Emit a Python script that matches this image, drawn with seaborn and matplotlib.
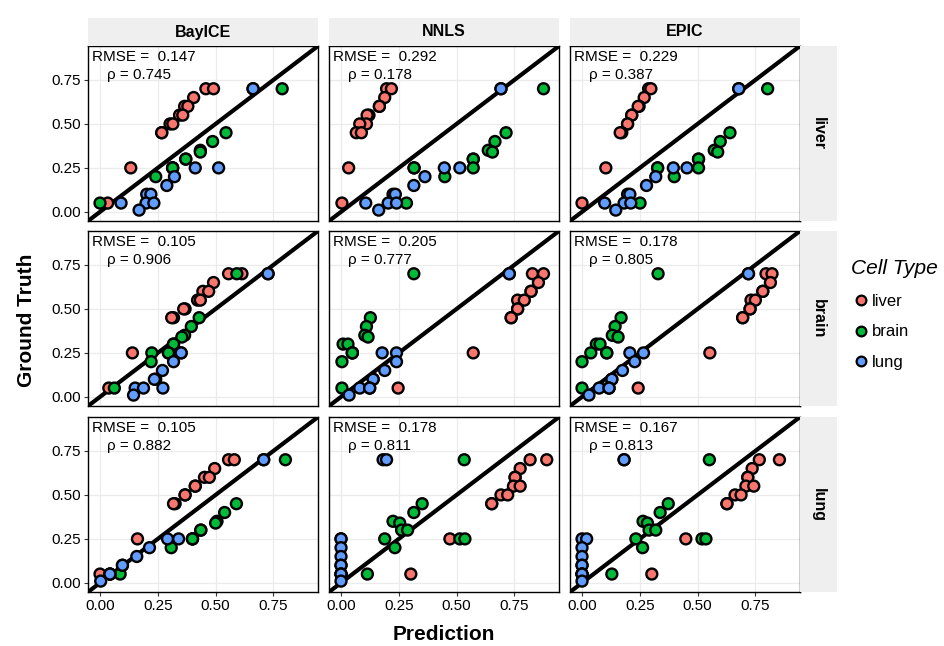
import numpy as np
import pandas as pd
import matplotlib
matplotlib.use("Agg")
import matplotlib.pyplot as plt
import seaborn as sns
from matplotlib.lines import Line2D

sns.set_style("white")
plt.rcParams['font.family'] = ['Liberation Sans', 'DejaVu Sans']
plt.rcParams['text.color'] = 'black'
plt.rcParams['xtick.labelcolor'] = 'black'
plt.rcParams['ytick.labelcolor'] = 'black'

# ---- data ------------------------------------------------------------------
methods = ["BayICE", "NNLS", "EPIC"]
rows = ["liver", "brain", "lung"]
cell_types = ["liver", "brain", "lung"]
palette = {"liver": "#F8766D", "brain": "#00BA38", "lung": "#619CFF"}

# ground truth proportions (mixture design, with visible replicates)
truth_liver = [0.70, 0.70, 0.65, 0.60, 0.60, 0.55, 0.55, 0.50, 0.50, 0.45, 0.45, 0.25, 0.05]
truth_brain = [0.70, 0.45, 0.40, 0.35, 0.34, 0.30, 0.30, 0.25, 0.25, 0.25, 0.20, 0.05]
truth_lung = [0.70, 0.70, 0.25, 0.25, 0.20, 0.15, 0.10, 0.10, 0.05, 0.05, 0.05, 0.01]

# predictions, one dict per panel (method_row)
bayice_liver = dict(
    liver=[0.458, 0.491, 0.405, 0.366, 0.380, 0.344, 0.358, 0.303, 0.315, 0.267, 0.267, 0.133, 0.033],
    brain=[0.788, 0.545, 0.487, 0.434, 0.434, 0.371, 0.371, 0.314, 0.314, 0.314, 0.241, 0.0],
    lung=[0.662, 0.662, 0.412, 0.513, 0.322, 0.289, 0.202, 0.220, 0.091, 0.199, 0.233, 0.169])
nnls_liver = dict(
    liver=[0.197, 0.218, 0.189, 0.166, 0.166, 0.121, 0.113, 0.110, 0.081, 0.066, 0.088, 0.033, 0.004],
    brain=[0.876, 0.714, 0.666, 0.637, 0.655, 0.572, 0.572, 0.572, 0.316, 0.316, 0.449, 0.283],
    lung=[0.692, 0.692, 0.447, 0.514, 0.363, 0.315, 0.225, 0.235, 0.107, 0.204, 0.240, 0.163])
epic_liver = dict(
    liver=[0.288, 0.298, 0.269, 0.247, 0.243, 0.215, 0.215, 0.197, 0.197, 0.172, 0.165, 0.103, 0.0],
    brain=[0.803, 0.640, 0.598, 0.572, 0.587, 0.504, 0.504, 0.504, 0.327, 0.327, 0.399, 0.251],
    lung=[0.678, 0.678, 0.395, 0.454, 0.319, 0.279, 0.197, 0.207, 0.098, 0.182, 0.211, 0.146])

bayice_brain = dict(
    liver=[0.556, 0.614, 0.491, 0.445, 0.470, 0.422, 0.434, 0.368, 0.362, 0.318, 0.310, 0.140, 0.038],
    brain=[0.592, 0.429, 0.395, 0.366, 0.354, 0.318, 0.318, 0.224, 0.296, 0.296, 0.221, 0.062],
    lung=[0.727, 0.727, 0.351, 0.351, 0.318, 0.270, 0.241, 0.235, 0.152, 0.188, 0.272, 0.145])
nnls_brain = dict(
    liver=[0.828, 0.876, 0.854, 0.822, 0.822, 0.764, 0.793, 0.764, 0.764, 0.736, 0.736, 0.572, 0.247],
    brain=[0.315, 0.127, 0.110, 0.103, 0.117, 0.009, 0.030, 0.049, 0.049, 0.049, 0.004, 0.004],
    lung=[0.728, 0.728, 0.178, 0.240, 0.240, 0.189, 0.139, 0.139, 0.081, 0.124, 0.124, 0.035])
epic_brain = dict(
    liver=[0.796, 0.822, 0.815, 0.782, 0.782, 0.731, 0.750, 0.727, 0.727, 0.695, 0.695, 0.553, 0.243],
    brain=[0.329, 0.169, 0.143, 0.131, 0.156, 0.062, 0.078, 0.038, 0.107, 0.107, 0.0, 0.0],
    lung=[0.720, 0.720, 0.207, 0.266, 0.228, 0.175, 0.129, 0.129, 0.074, 0.117, 0.117, 0.030])

bayice_lung = dict(
    liver=[0.556, 0.581, 0.496, 0.452, 0.473, 0.412, 0.412, 0.368, 0.368, 0.325, 0.318, 0.162, 0.0],
    brain=[0.802, 0.590, 0.539, 0.506, 0.500, 0.436, 0.436, 0.400, 0.400, 0.400, 0.308, 0.087],
    lung=[0.708, 0.708, 0.292, 0.340, 0.214, 0.159, 0.097, 0.097, 0.043, 0.043, 0.043, 0.003])
nnls_lung = dict(
    liver=[0.818, 0.890, 0.775, 0.753, 0.753, 0.746, 0.775, 0.692, 0.721, 0.652, 0.652, 0.471, 0.302],
    brain=[0.533, 0.351, 0.315, 0.225, 0.254, 0.262, 0.288, 0.189, 0.514, 0.536, 0.233, 0.114],
    lung=[0.182, 0.197, 0.0, 0.0, 0.0, 0.0, 0.0, 0.0, 0.0, 0.0, 0.0, 0.0])
epic_lung = dict(
    liver=[0.767, 0.854, 0.736, 0.717, 0.717, 0.709, 0.743, 0.662, 0.688, 0.627, 0.627, 0.449, 0.302],
    brain=[0.551, 0.373, 0.338, 0.264, 0.283, 0.290, 0.319, 0.233, 0.519, 0.536, 0.262, 0.129],
    lung=[0.182, 0.182, 0.0, 0.020, 0.0, 0.0, 0.0, 0.0, 0.0, 0.0, 0.0, 0.0])

rmse_vals = {"BayICE": [0.147, 0.105, 0.105], "NNLS": [0.292, 0.205, 0.178], "EPIC": [0.229, 0.178, 0.167]}
rho_vals = {"BayICE": [0.745, 0.906, 0.882], "NNLS": [0.178, 0.777, 0.811], "EPIC": [0.387, 0.805, 0.813]}

panels = {
    ("BayICE", "liver"): bayice_liver, ("NNLS", "liver"): nnls_liver, ("EPIC", "liver"): epic_liver,
    ("BayICE", "brain"): bayice_brain, ("NNLS", "brain"): nnls_brain, ("EPIC", "brain"): epic_brain,
    ("BayICE", "lung"): bayice_lung, ("NNLS", "lung"): nnls_lung, ("EPIC", "lung"): epic_lung,
}
truths = {"liver": truth_liver, "brain": truth_brain, "lung": truth_lung}

records = []
for (method, row), preds in panels.items():
    for cell in cell_types:
        for p, t in zip(preds[cell], truths[cell]):
            records.append((method, row, cell, p, t))
df = pd.DataFrame(records, columns=["method", "row", "cell", "pred", "truth"])
df["cell"] = pd.Categorical(df["cell"], categories=cell_types)

# ---- layout (pixel based) ---------------------------------------------------
W, H = 945, 646
fig = plt.figure(figsize=(W / 100, H / 100), dpi=100)

col_left = [88, 329, 570]
row_top = [46, 231, 417]
pw, ph = 230, 175
lims = (-0.052, 0.943)
ticks = [0.0, 0.25, 0.5, 0.75]
tick_labels = ["0.00", "0.25", "0.50", "0.75"]
strip_col = "#EFEFEF"


def rect(x, y, w, h):
    return [x / W, 1 - (y + h) / H, w / W, h / H]


for i, row in enumerate(rows):
    for j, method in enumerate(methods):
        ax = fig.add_axes(rect(col_left[j], row_top[i], pw, ph))
        sub = df[(df["method"] == method) & (df["row"] == row)]
        ax.axline((0, 0), slope=1, color="black", lw=3.0, zorder=2)
        sns.scatterplot(data=sub, x="pred", y="truth", hue="cell", palette=palette,
                        s=62, edgecolor="black", linewidth=1.7, legend=False,
                        ax=ax, zorder=3, clip_on=True)
        ax.set_xlim(lims)
        ax.set_ylim(lims)
        ax.set_xticks(ticks)
        ax.set_yticks(ticks)
        ax.grid(True, color="#EBEBEB", lw=0.9)
        ax.set_axisbelow(True)
        for sp in ax.spines.values():
            sp.set_color("black")
            sp.set_linewidth(1.0)
        ax.set_xlabel("")
        ax.set_ylabel("")
        ax.tick_params(length=3, width=0.8, color="#333333", labelsize=11, pad=2,
                       left=(j == 0), bottom=(i == 2),
                       labelleft=(j == 0), labelbottom=(i == 2))
        if i == 2:
            ax.set_xticklabels(tick_labels)
        if j == 0:
            ax.set_yticklabels(tick_labels)
        ax.text(0.017, 0.935, f"RMSE =  {rmse_vals[method][i]:.3f}", transform=ax.transAxes,
                fontsize=11, ha="left", va="center")
        ax.text(0.083, 0.835, f"\u03c1 = {rho_vals[method][i]:.3f}", transform=ax.transAxes,
                fontsize=11, ha="left", va="center")

        # top strip
        if i == 0:
            sax = fig.add_axes(rect(col_left[j], 18, pw, 28))
            sax.set_facecolor(strip_col)
            sax.set_xticks([])
            sax.set_yticks([])
            for sp in sax.spines.values():
                sp.set_visible(False)
            sax.text(0.5, 0.5, method, ha="center", va="center", fontsize=11.5,
                     fontweight="bold", transform=sax.transAxes)
        # right strip
        if j == 2:
            rax = fig.add_axes(rect(800, row_top[i], 37, ph))
            rax.set_facecolor(strip_col)
            rax.set_xticks([])
            rax.set_yticks([])
            for sp in rax.spines.values():
                sp.set_visible(False)
            rax.text(0.5, 0.5, row, ha="center", va="center", fontsize=11.5,
                     fontweight="bold", rotation=-90, transform=rax.transAxes)

fig.text(27 / W, 1 - 320 / H, "Ground Truth", rotation=90, ha="center", va="center",
         fontsize=15, fontweight="bold")
fig.text(444 / W, 1 - 635 / H, "Prediction", ha="center", va="center",
         fontsize=15, fontweight="bold")

handles = [Line2D([0], [0], marker="o", ls="", markerfacecolor=palette[c],
                  markeredgecolor="black", markeredgewidth=1.6, markersize=7)
           for c in cell_types]
leg = fig.legend(handles, cell_types, title="Cell Type", loc="upper left",
                 bbox_to_anchor=(839 / W, 1 - 247 / H), frameon=False,
                 fontsize=12, handletextpad=0.1, labelspacing=0.95,
                 handlelength=1.2, borderpad=0.2)
leg.get_title().set_fontsize(15)
leg.get_title().set_fontstyle("italic")
leg._legend_box.align = "left"

fig.savefig("out.png", dpi=100, facecolor="white")
